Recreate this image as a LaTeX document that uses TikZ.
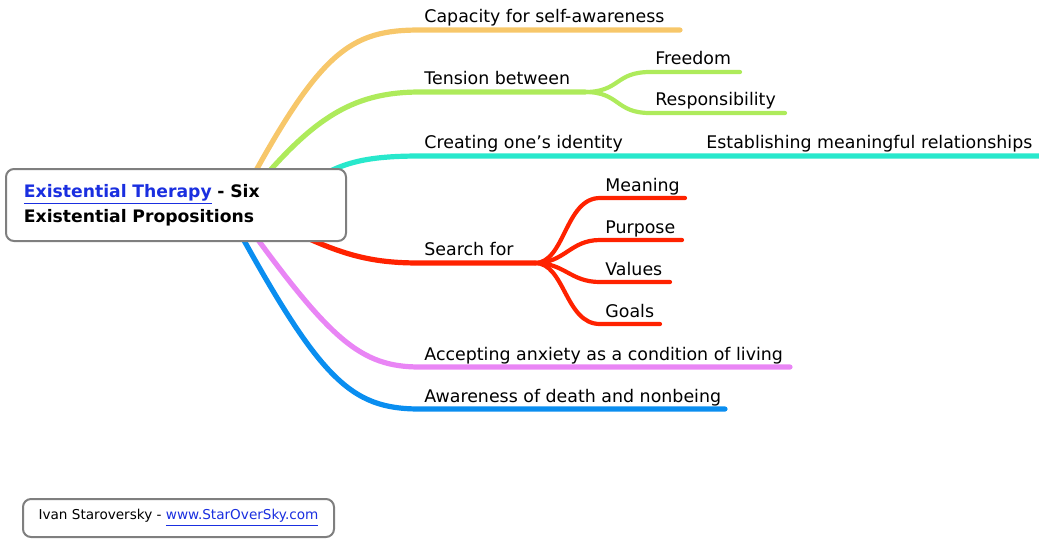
\documentclass[tikz,border=0pt]{standalone}
\usepackage{fontspec}
\setmainfont{DejaVu Sans}
\definecolor{cOrange}{HTML}{F7C76A}
\definecolor{cGreen}{HTML}{AEEB5B}
\definecolor{cCyan}{HTML}{28E8CC}
\definecolor{cRed}{HTML}{FF2200}
\definecolor{cPink}{HTML}{E985F5}
\definecolor{cBlue}{HTML}{0A8EF0}
\definecolor{cLink}{HTML}{1A2FE0}
\definecolor{cBox}{HTML}{7F7F7F}
\begin{document}
\begin{tikzpicture}[x=0.5pt,y=-0.5pt,
  br/.style={line width=2.6pt, line cap=round},
  subbr/.style={line width=2.1pt, line cap=round},
  lbl/.style={anchor=base west, inner sep=0pt, font=\fontsize{8.7}{10}\selectfont},
  mainbox/.style={draw=cBox, line width=1pt, rounded corners=4pt, fill=white, anchor=north west},
  link/.style={text=cLink}]
\useasboundingbox (0,0) rectangle (1039,538);

% starting points behind the central box
\coordinate (sO) at (240,200);
\coordinate (sG) at (245,200);
\coordinate (sC) at (300,190);
\coordinate (sR) at (280,225);
\coordinate (sP) at (240,215);
\coordinate (sB) at (230,215);

% orange
\coordinate (oL) at (420,30); \coordinate (oR) at (680,30);
\draw[br,cOrange] (sO) .. controls (320,50) and (350,30) .. (oL) -- (oR);
\node[lbl] (cap) at (424,22) {Capacity for self-awareness};

% green
\coordinate (gL) at (420,92); \coordinate (gF) at (585,92);
\coordinate (fL) at (650,72); \coordinate (fR) at (740,72);
\coordinate (rL) at (650,113); \coordinate (rR) at (785,113);
\draw[br,cGreen] (sG) .. controls (310,120) and (350,92) .. (gL) -- (gF);
\draw[subbr,cGreen] (gF) .. controls (620,92) and (615,72) .. (fL) -- (fR);
\draw[subbr,cGreen] (gF) .. controls (620,92) and (615,113) .. (rL) -- (rR);
\node[lbl] (ten) at (424,84) {Tension between};
\node[lbl] (free) at (655,64) {Freedom};
\node[lbl] (resp) at (655,105) {Responsibility};

% cyan
\coordinate (cL) at (420,156); \coordinate (cR) at (1039,156);
\draw[br,cCyan] (sC) .. controls (335,164) and (360,156) .. (cL) -- (cR);
\node[lbl] (ident) at (424,148) {Creating one’s identity};
\node[lbl] (rel) at (706,148) {Establishing meaningful relationships};

% red
\coordinate (redL) at (420,263); \coordinate (redF) at (535,263);
\coordinate (mL) at (600,198); \coordinate (mR) at (685,198);
\coordinate (puL) at (600,240); \coordinate (puR) at (682,240);
\coordinate (vL) at (600,282); \coordinate (vR) at (670,282);
\coordinate (goL) at (600,324); \coordinate (goR) at (660,324);
\draw[br,cRed] (sR) .. controls (340,255) and (370,263) .. (redL) -- (redF);
\draw[subbr,cRed] (redF) .. controls (565,263) and (565,198) .. (mL) -- (mR);
\draw[subbr,cRed] (redF) .. controls (565,263) and (570,240) .. (puL) -- (puR);
\draw[subbr,cRed] (redF) .. controls (565,263) and (570,282) .. (vL) -- (vR);
\draw[subbr,cRed] (redF) .. controls (565,263) and (565,324) .. (goL) -- (goR);
\node[lbl] (search) at (424,255) {Search for};
\node[lbl] (mean) at (605,191) {Meaning};
\node[lbl] (purp) at (605,233) {Purpose};
\node[lbl] (val) at (605,275) {Values};
\node[lbl] (goal) at (605,317) {Goals};

% pink
\coordinate (pL) at (420,367); \coordinate (pR) at (790,367);
\draw[br,cPink] (sP) .. controls (330,340) and (360,367) .. (pL) -- (pR);
\node[lbl] (anx) at (424,360) {Accepting anxiety as a condition of living};

% blue
\coordinate (bL) at (420,409); \coordinate (bR) at (725,409);
\draw[br,cBlue] (sB) .. controls (320,380) and (350,409) .. (bL) -- (bR);
\node[lbl] (death) at (424,402) {Awareness of death and nonbeing};

% central box
\node[mainbox, minimum width=170pt, minimum height=36pt, text width=152pt,
      inner xsep=9pt, inner ysep=0pt, align=left,
      font=\bfseries\fontsize{8.6}{12.5}\selectfont] (center) at (5,168)
  {{\color{cLink}\underline{Existential Therapy}} - Six\\Existential Propositions};

% footer box
\node[mainbox, minimum width=155.5pt, minimum height=19pt, inner sep=0pt,
      font=\fontsize{6.8}{8}\selectfont] (foot) at (22,498)
  {Ivan Staroversky - {\color{cLink}\underline{www.StarOverSky.com}}};
\end{tikzpicture}
\end{document}
